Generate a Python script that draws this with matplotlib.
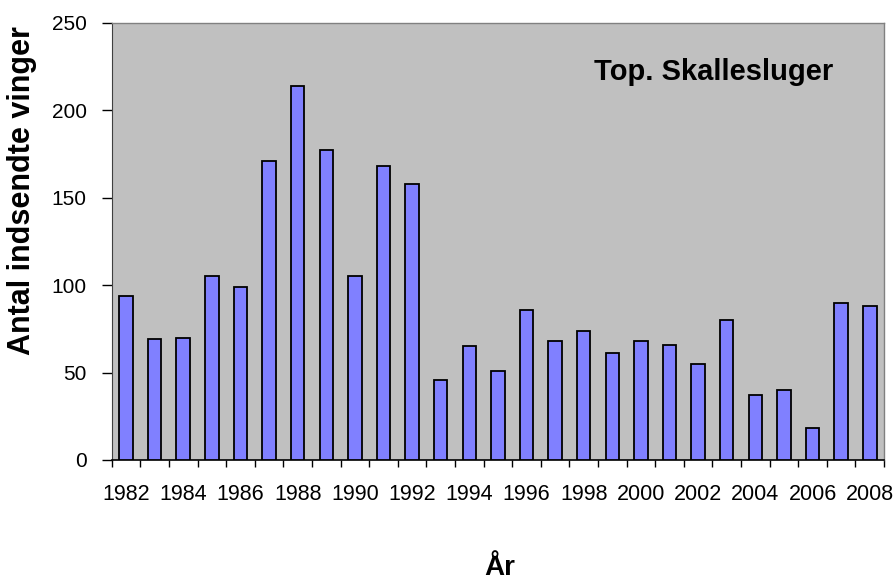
import matplotlib
matplotlib.use("Agg")
import matplotlib.pyplot as plt
import numpy as np

years = list(range(1982, 2009))
values = [94, 69, 70, 105, 99, 171, 214, 177, 105, 168, 158, 46, 65,
          51, 86, 68, 74, 61, 68, 66, 55, 80, 37, 40, 18, 90, 88]
year_labels = [str(y) if (y - 1982) % 2 == 0 else "" for y in years]

plt.rcParams['font.family'] = ['Liberation Sans', 'DejaVu Sans']

fig = plt.figure(figsize=(8.95, 5.81), dpi=100)
ax = fig.add_axes([0.1248, 0.2083, 0.8630, 0.7527])
ax.set_facecolor('#C0C0C0')

x = np.arange(len(years))
ax.bar(x, values, width=0.47, color='#8080FF', edgecolor='black', linewidth=1.3, zorder=3)

ax.set_xlim(-0.5, len(years) - 0.5)
ax.set_ylim(0, 250)
ax.set_yticks([0, 50, 100, 150, 200, 250])
ax.tick_params(axis='y', direction='out', length=7, width=1, labelsize=15, pad=11)

ax.set_xticks(x)
ax.set_xticklabels(year_labels)
ax.tick_params(axis='x', which='major', length=0, labelsize=15.5, pad=17)
ax.set_xticks(np.arange(len(years) + 1) - 0.5, minor=True)
ax.tick_params(axis='x', which='minor', direction='out', length=5, width=1)

for s in ['top', 'right']:
    ax.spines[s].set_color('#808080')
    ax.spines[s].set_linewidth(1)
ax.spines['left'].set_color('#404040')
ax.spines['bottom'].set_color('black')
ax.spines['bottom'].set_linewidth(1.2)

ax.text(0.934, 0.888, 'Top. Skallesluger', transform=ax.transAxes, ha='right', va='center',
        fontsize=21, fontweight='bold')

fig.text(22 / 895, 1 - 191 / 581, 'Antal indsendte vinger', rotation=90, ha='center', va='center',
         fontsize=22, fontweight='bold')
fig.text(500 / 895, 1 - 575 / 581, 'År', ha='center', va='baseline', fontsize=20, fontweight='bold')

fig.savefig('out.png', dpi=100)
